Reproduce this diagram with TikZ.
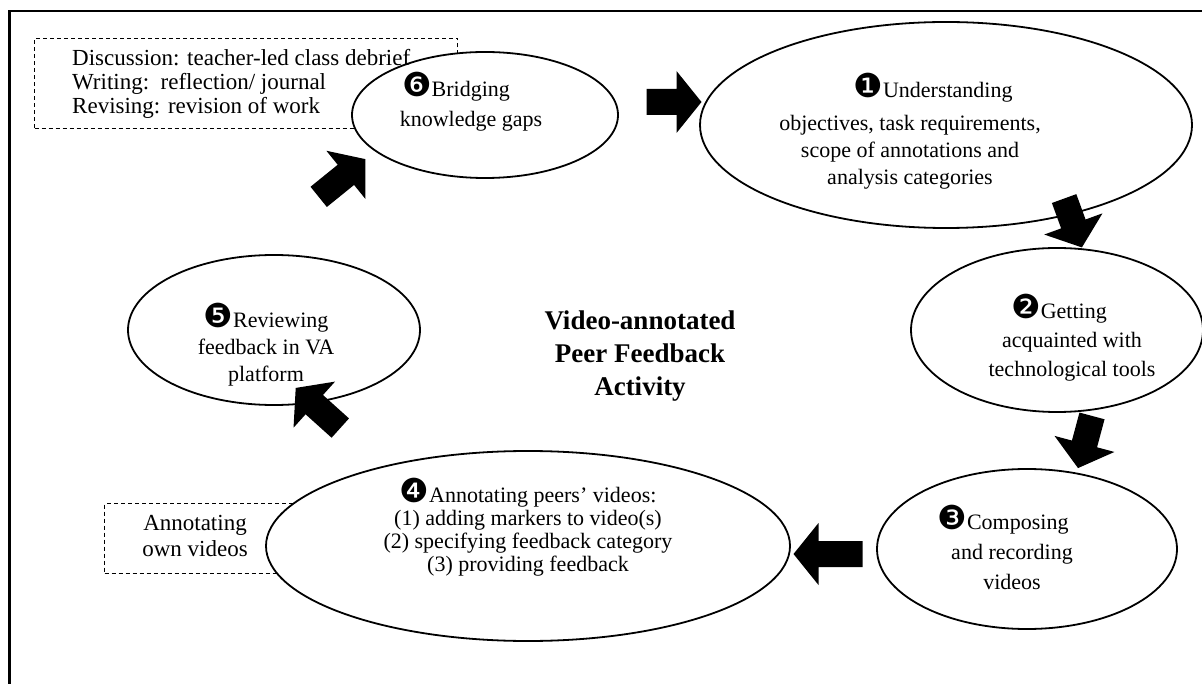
\documentclass[tikz,border=0pt]{standalone}
\usepackage{fontspec}
\setmainfont{Liberation Serif}
\newfontfamily\dv{DejaVu Sans}
\usetikzlibrary{shapes.geometric}
\newcommand{\nb}[1]{{\dv\fontsize{33}{33}\selectfont #1}}
\newcommand{\barrow}[4]{%
  \begin{scope}[shift={(#1,#2)},rotate=#3]
    \fill[black] ({-#4/2},-13) -- ({#4/2-25},-13) -- ({#4/2-25},-31) -- ({#4/2},0) -- ({#4/2-25},31) -- ({#4/2-25},13) -- ({-#4/2},13) -- cycle;
  \end{scope}}
\tikzset{
  ell/.style={ellipse, draw=black, line width=1.8pt, fill=white, inner sep=0pt},
  etxt/.style={align=center, font=\fontsize{22}{27}\selectfont, inner sep=0pt},
  dbox/.style={draw=black, line width=1pt, dash pattern=on 4pt off 3pt, inner sep=0pt, anchor=north west},
  btxt/.style={font=\fontsize{23}{24}\selectfont, inner sep=0pt}
}
\begin{document}
\begin{tikzpicture}[x=1pt,y=-1pt]
\clip (0,0) rectangle (1202,684);
\fill[white] (0,0) rectangle (1202,684);
\draw[line width=2.2pt] (9.5,11) rectangle (1300,800);

% dashed boxes
\node[dbox, minimum width=423pt, minimum height=90pt] (d1) at (34,38) {};
\node[dbox, minimum width=220pt, minimum height=70pt] (d2) at (104,503) {};

% ellipses
\node[ell, minimum width=492pt, minimum height=206pt] (e1) at (946,125) {};
\node[ell, minimum width=292pt, minimum height=164pt] (e2) at (1057,330) {};
\node[ell, minimum width=300pt, minimum height=160pt] (e3) at (1027,549) {};
\node[ell, minimum width=524pt, minimum height=190pt] (e4) at (528,546) {};
\node[ell, minimum width=292pt, minimum height=150pt] (e5) at (274,330) {};
\node[ell, minimum width=266pt, minimum height=126pt] (e6) at (485,115) {};

% dashed box texts
\node[btxt, align=left, anchor=west] (d1t) at (72,84) {Discussion: teacher-led class debrief\\Writing:\ \ reflection/ journal\\Revising: revision of work};
\node[btxt, align=center, font=\fontsize{23}{26}\selectfont] (d2t) at (195,536) {Annotating\\own videos};

% ellipse texts
\node[etxt] (t1) at (910,131) {\hspace*{46pt}\nb{❶}Understanding\\[6pt]objectives, task requirements,\\scope of annotations and\\analysis categories};
\node[etxt, font=\fontsize{22}{29}\selectfont] (t2) at (1072,338) {\nb{❷}Getting\hspace*{26pt}\\acquainted with\\technological tools};
\node[etxt, font=\fontsize{22}{30}\selectfont] (t3) at (1012,547) {\nb{❸}Composing\hspace*{18pt}\\and recording\\videos};
\node[etxt, font=\fontsize{22}{23}\selectfont] (t4) at (528,527) {\nb{❹}Annotating peers’ videos:\\(1) adding markers to video(s)\\(2) specifying feedback category\\(3) providing feedback};
\node[etxt] (t5) at (266,345) {\nb{❺}Reviewing\\feedback in VA\\platform};
\node[etxt, font=\fontsize{22}{30}\selectfont] (t6) at (471,102) {\nb{❻}Bridging\hspace*{30pt}\\knowledge gaps};

% title
\node[align=center, inner sep=0pt, font=\bfseries\fontsize{27}{33}\selectfont] (title) at (640,356) {Video-annotated\\Peer Feedback\\Activity};

% block arrows
\barrow{674}{102}{0}{55}
\barrow{1073}{223}{-70}{52}
\barrow{1085}{442}{-105}{54}
\barrow{828}{554}{180}{69}
\barrow{318}{408}{138}{60}
\barrow{342}{178}{39}{60}
\end{tikzpicture}
\end{document}
